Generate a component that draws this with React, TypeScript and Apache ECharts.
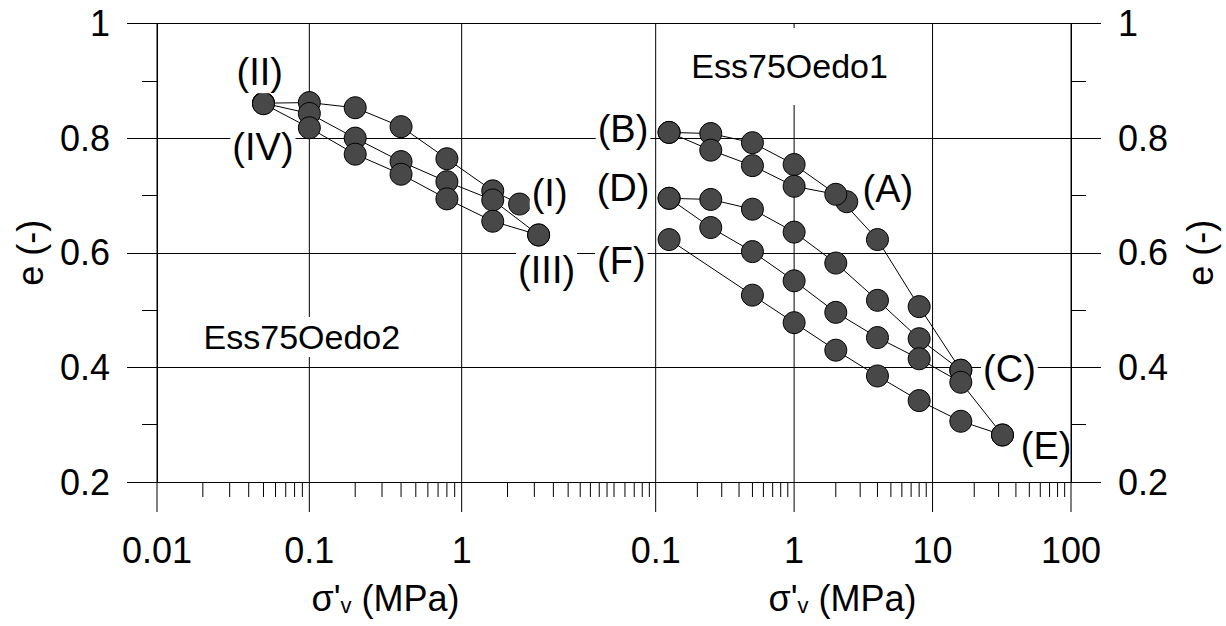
import React, { useEffect, useRef } from 'react';
import * as echarts from 'echarts';

const FONT = "'Liberation Sans', Arial, Helvetica, sans-serif";

// ---- axes ----
const Y_MIN = 0.2;
const Y_MAX = 1.0;
const Y_INTERVAL = 0.2;
const LEFT_X_MIN = 0.01;
const LEFT_X_MAX = 10;
const RIGHT_X_MIN = 0.05;
const RIGHT_X_MAX = 100;

const LEFT_X_TICKS = [0.01, 0.1, 1];
const LEFT_X_TICK_LABELS = ['0.01', '0.1', '1'];
const RIGHT_X_TICKS = [0.1, 1, 10, 100];
const RIGHT_X_TICK_LABELS = ['0.1', '1', '10', '100'];
const Y_TICKS = [0.2, 0.4, 0.6, 0.8, 1.0];
const Y_TICK_LABELS = ['0.2', '0.4', '0.6', '0.8', '1'];

const X_AXIS_TITLE = "σ'{sub|v} (MPa)";
const Y_AXIS_TITLE = 'e (-)';

// ---- Ess75Oedo2 (left panel) ----
const L_I_II_X = [2.4, 1.6, 0.8, 0.4, 0.2, 0.1, 0.05];
const L_I_II_E = [0.685, 0.708, 0.764, 0.82, 0.853, 0.862, 0.861];
const L_II_III_X = [0.05, 0.1, 0.2, 0.4, 0.8, 1.6, 3.2];
const L_II_III_E = [0.861, 0.843, 0.8, 0.759, 0.724, 0.692, 0.631];
const L_III_IV_X = [3.2, 1.6, 0.8, 0.4, 0.2, 0.1, 0.05];
const L_III_IV_E = [0.631, 0.655, 0.694, 0.737, 0.772, 0.818, 0.86];

// ---- Ess75Oedo1 (right panel) ----
const R_A_B_X = [2.4, 1, 0.5, 0.25, 0.125];
const R_A_B_E = [0.689, 0.754, 0.792, 0.808, 0.81];
const R_B_C_X = [0.125, 0.25, 0.5, 1, 2, 4, 8, 16];
const R_B_C_E = [0.81, 0.779, 0.752, 0.716, 0.702, 0.623, 0.506, 0.395];
const R_C_D_X = [16, 8, 4, 2, 1, 0.5, 0.25, 0.125];
const R_C_D_E = [0.395, 0.45, 0.517, 0.582, 0.636, 0.676, 0.693, 0.695];
const R_D_E_X = [0.125, 0.25, 0.5, 1, 2, 4, 8, 16, 32];
const R_D_E_E = [0.695, 0.644, 0.602, 0.551, 0.496, 0.452, 0.415, 0.374, 0.282];
const R_E_F_X = [32, 16, 8, 4, 2, 1, 0.5, 0.125];
const R_E_F_E = [0.282, 0.306, 0.342, 0.385, 0.43, 0.478, 0.526, 0.623];

// ---- annotations (data coordinates of label centres) ----
const LEFT_NOTE_TEXT = ['(II)', '(IV)', '(I)', '(III)', 'Ess75Oedo2'];
const LEFT_NOTE_X = [0.0473, 0.0496, 3.78, 3.61, 0.0893];
const LEFT_NOTE_E = [0.915, 0.785, 0.704, 0.57, 0.453];
const RIGHT_NOTE_TEXT = ['Ess75Oedo1', '(B)', '(D)', '(F)', '(A)', '(C)', '(E)'];
const RIGHT_NOTE_X = [0.928, 0.0581, 0.0581, 0.0565, 4.76, 35.9, 66.2];
const RIGHT_NOTE_E = [0.925, 0.816, 0.713, 0.585, 0.712, 0.398, 0.262];

// decade grid lines (major) for each panel
const LEFT_DECADES = [0.01, 0.1, 1];
const RIGHT_DECADES = [0.1, 1, 10, 100];

function minorTicks(min: number, max: number, majors: number[]) {
  const out: number[] = [];
  for (let p = -3; p <= 3; p++) {
    for (let m = 1; m <= 9; m++) {
      const v = +(m * Math.pow(10, p)).toPrecision(6);
      if (v < min - 1e-9 || v > max + 1e-9) continue;
      if (majors.some((d) => Math.abs(Math.log10(d) - Math.log10(v)) < 1e-6)) continue;
      out.push(v);
    }
  }
  return out;
}

const pairs = (xs: number[], es: number[]) => xs.map((x, i) => [x, es[i]]);

const labelFmt = (ticks: number[], labels: string[]) => (v: number) => {
  const i = ticks.findIndex((t) => Math.abs(Math.log10(t) - Math.log10(v)) < 1e-6);
  return i >= 0 ? labels[i] : '';
};
const yFmt = (v: number) => {
  const i = Y_TICKS.findIndex((t) => Math.abs(t - v) < 1e-6);
  return i >= 0 ? Y_TICK_LABELS[i] : '';
};

const TXT = { color: '#000', fontFamily: FONT, fontSize: 36 };

function xAxis(grid: number, min: number, max: number, ticks: number[], labels: string[]) {
  return {
    type: 'log',
    logBase: 10,
    gridIndex: grid,
    min,
    max,
    axisLine: { show: true, onZero: false, lineStyle: { color: '#000', width: 1 } },
    axisTick: { show: false },
    minorTick: { show: false },
    splitLine: { show: false },
    minorSplitLine: { show: false },
    axisLabel: { show: true, margin: 50, ...TXT, formatter: labelFmt(ticks, labels) },
    name: X_AXIS_TITLE,
    nameLocation: 'middle',
    nameGap: 98,
    nameTextStyle: {
      ...TXT,
      rich: { sub: { color: '#000', fontFamily: FONT, fontSize: 22, verticalAlign: 'bottom' } },
    },
  };
}

function yAxis(grid: number, position: string, gap: number) {
  return {
    type: 'value',
    gridIndex: grid,
    position,
    min: Y_MIN,
    max: Y_MAX,
    interval: Y_INTERVAL,
    axisLine: { show: true, onZero: false, lineStyle: { color: '#000', width: 1 } },
    axisTick: { show: true, inside: false, length: 30, lineStyle: { color: '#000', width: 1 } },
    minorTick: { show: true, splitNumber: 2, length: 15, lineStyle: { color: '#000', width: 1 } },
    splitLine: { show: true, lineStyle: { color: '#000', width: 1 } },
    minorSplitLine: { show: false },
    axisLabel: { show: true, margin: 47, ...TXT, formatter: yFmt },
    name: Y_AXIS_TITLE,
    nameLocation: 'middle',
    nameRotate: 90,
    nameGap: gap,
    nameTextStyle: { ...TXT },
  };
}

function decor(grid: number, majors: number[], minors: number[]) {
  const data = [...majors.map((v) => [v, 1]), ...minors.map((v) => [v, 0])];
  return {
    type: 'custom',
    xAxisIndex: grid,
    yAxisIndex: grid,
    silent: true,
    z: 2,
    clip: false,
    data,
    renderItem: (params: any, api: any) => {
      const v = api.value(0);
      const kind = api.value(1);
      const top = api.coord([v, Y_MAX]);
      const bot = api.coord([v, Y_MIN]);
      const style = { stroke: '#000', lineWidth: 1 };
      if (kind === 1) {
        return { type: 'line', shape: { x1: top[0], y1: top[1], x2: bot[0], y2: bot[1] + 30 }, style };
      }
      return { type: 'line', shape: { x1: bot[0], y1: bot[1], x2: bot[0], y2: bot[1] + 15 }, style };
    },
  };
}

function curve(grid: number, xs: number[], es: number[]) {
  return {
    type: 'line',
    xAxisIndex: grid,
    yAxisIndex: grid,
    data: pairs(xs, es),
    symbol: 'none',
    showSymbol: false,
    silent: true,
    z: 3,
    lineStyle: { color: '#000', width: 1 },
  };
}

function points(grid: number, sets: number[][][]) {
  const data: number[][] = [];
  sets.forEach((s) => s.forEach((p) => data.push(p)));
  return {
    type: 'scatter',
    xAxisIndex: grid,
    yAxisIndex: grid,
    data,
    symbol: 'circle',
    symbolSize: 22,
    silent: true,
    z: 4,
    itemStyle: { color: '#484848', borderColor: '#000', borderWidth: 1, opacity: 1 },
  };
}

function notes(grid: number, texts: string[], xs: number[], es: number[]) {
  return {
    type: 'scatter',
    xAxisIndex: grid,
    yAxisIndex: grid,
    silent: true,
    z: 5,
    symbol: 'circle',
    symbolSize: 1,
    itemStyle: { color: 'rgba(0,0,0,0)', opacity: 1 },
    data: texts.map((t, i) => {
      const item: any = { name: t, value: [xs[i], es[i]] };
      if (t === 'Ess75Oedo1') item.label = { fontSize: 34, padding: [5, 4, 38, 4] };
      else if (t === 'Ess75Oedo2') item.label = { fontSize: 34, padding: [3, 4] };
      else if (t === '(E)') item.label = { backgroundColor: 'transparent' };
      return item;
    }),
    label: {
      show: true,
      position: 'inside',
      formatter: '{b}',
      color: '#000',
      opacity: 1,
      fontFamily: FONT,
      fontSize: 38,
      backgroundColor: '#fff',
      padding: [2, 2],
    },
  };
}

export default function App() {
  const ref = useRef<HTMLDivElement>(null);
  useEffect(() => {
    if (!ref.current) return;
    const chart = echarts.init(ref.current, undefined, { renderer: 'svg' });
    const option: any = {
      animation: false,
      backgroundColor: '#fff',
      grid: [
        { left: 157, right: 1226 - 614, top: 23.5, height: 458.5, containLabel: false, outerBoundsMode: 'none' },
        { left: 614, right: 1226 - 1071, top: 23.5, height: 458.5, containLabel: false, outerBoundsMode: 'none' },
      ],
      xAxis: [
        xAxis(0, LEFT_X_MIN, LEFT_X_MAX, LEFT_X_TICKS, LEFT_X_TICK_LABELS),
        xAxis(1, RIGHT_X_MIN, RIGHT_X_MAX, RIGHT_X_TICKS, RIGHT_X_TICK_LABELS),
      ],
      yAxis: [yAxis(0, 'left', 109), yAxis(1, 'right', 111)],
      series: [
        decor(0, LEFT_DECADES, minorTicks(LEFT_X_MIN, LEFT_X_MAX, LEFT_DECADES)),
        decor(1, RIGHT_DECADES, minorTicks(RIGHT_X_MIN * 1.01, RIGHT_X_MAX, RIGHT_DECADES)),
        curve(0, L_I_II_X, L_I_II_E),
        curve(0, L_II_III_X, L_II_III_E),
        curve(0, L_III_IV_X, L_III_IV_E),
        curve(1, R_A_B_X, R_A_B_E),
        curve(1, R_B_C_X, R_B_C_E),
        curve(1, R_C_D_X, R_C_D_E),
        curve(1, R_D_E_X, R_D_E_E),
        curve(1, R_E_F_X, R_E_F_E),
        points(0, [pairs(L_I_II_X, L_I_II_E), pairs(L_II_III_X, L_II_III_E), pairs(L_III_IV_X, L_III_IV_E)]),
        points(1, [
          pairs(R_A_B_X, R_A_B_E),
          pairs(R_B_C_X, R_B_C_E),
          pairs(R_C_D_X, R_C_D_E),
          pairs(R_D_E_X, R_D_E_E),
          pairs(R_E_F_X, R_E_F_E),
        ]),
        notes(0, LEFT_NOTE_TEXT, LEFT_NOTE_X, LEFT_NOTE_E),
        notes(1, RIGHT_NOTE_TEXT, RIGHT_NOTE_X, RIGHT_NOTE_E),
      ],
    };
    chart.setOption(option);
    return () => chart.dispose();
  }, []);
  return (
    <div
      ref={ref}
      style={{ position: 'absolute', left: 0, top: 0, width: 1226, height: 626, background: '#fff' }}
    />
  );
}
